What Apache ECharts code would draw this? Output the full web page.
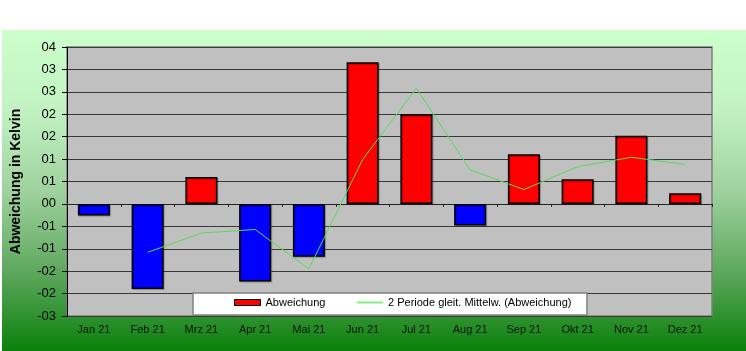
<!DOCTYPE html>
<html>
<head>
<meta charset="utf-8">
<script src="https://cdn.jsdelivr.net/npm/echarts@6/dist/echarts.min.js"></script>
<style>
  html, body { margin: 0; padding: 0; background: #fff; }
  #chart { width: 746px; height: 351px; }
</style>
</head>
<body>
<div id="chart"></div>
<script>
// Monate
var months = ['Jan 21', 'Feb 21', 'Mrz 21', 'Apr 21', 'Mai 21', 'Jun 21',
              'Jul 21', 'Aug 21', 'Sep 21', 'Okt 21', 'Nov 21', 'Dez 21'];
// Abweichung (Balken)
var abweichung = [-0.26, -1.90, 0.60, -1.73, -1.18, 3.16, 2.00, -0.48, 1.11, 0.55, 1.52, 0.24];
// gleitender Mittelwert
var mittel = [null, -1.08, -0.65, -0.57, -1.45, 0.99, 2.58, 0.76, 0.32, 0.83, 1.04, 0.88];
// Achsenwerte und Beschriftung wie im Original
var yTicks = [-2.5, -2, -1.5, -1, -0.5, 0, 0.5, 1, 1.5, 2, 2.5, 3, 3.5];
var yTickLabels = ['-03', '-02', '-02', '-01', '-01', '00', '01', '01', '02', '02', '03', '03', '04'];

var font = '"Liberation Sans", Arial, sans-serif';
var myChart = echarts.init(document.getElementById('chart'));

var legendText = { fontFamily: font, fontSize: 11, color: '#000' };

var option = {
  backgroundColor: '#ffffff',
  animation: false,
  graphic: [
    {
      type: 'rect',
      z: -10,
      shape: { x: 2, y: 30, width: 744, height: 321 },
      style: {
        fill: new echarts.graphic.LinearGradient(0, 0, 0, 1, [
          { offset: 0, color: '#ccffcc' },
          { offset: 0.25, color: '#c2f2c2' },
          { offset: 0.5, color: '#9fd29f' },
          { offset: 0.75, color: '#5fa85f' },
          { offset: 1, color: '#0a800a' }
        ])
      },
      silent: true
    },
    {
      // Legendenrahmen
      type: 'rect',
      z: 50,
      shape: { x: 193, y: 293, width: 394, height: 22 },
      style: { fill: '#ffffff', stroke: '#808080', lineWidth: 1.5 },
      silent: true
    }
  ],
  legend: [
    {
      z: 100,
      left: 234,
      top: 297,
      itemWidth: 26,
      itemHeight: 6,
      padding: 0,
      textStyle: legendText,
      data: [
        { name: 'Abweichung', icon: 'rect', itemStyle: { color: '#ff0000', borderColor: '#000', borderWidth: 1 } }
      ]
    },
    {
      z: 100,
      left: 357,
      top: 297,
      itemWidth: 26,
      itemHeight: 2,
      padding: 0,
      textStyle: legendText,
      data: [
        { name: '2 Periode gleit. Mittelw. (Abweichung)', icon: 'rect',
          itemStyle: { color: '#80f080', borderWidth: 0 } }
      ]
    }
  ],
  grid: {
    left: 67,
    top: 47,
    right: 34,
    bottom: 35,
    show: true,
    backgroundColor: '#c0c0c0',
    borderColor: '#808080',
    borderWidth: 1.5
  },
  xAxis: [
    {
      type: 'category',
      data: months,
      position: 'bottom',
      axisLine: { show: false, onZero: false },
      axisTick: { show: false },
      axisLabel: { margin: 8, fontFamily: font, fontSize: 11, color: '#111' }
    },
    {
      type: 'category',
      data: months,
      position: 'bottom',
      axisLine: { show: true, onZero: true, lineStyle: { color: '#222', width: 1.2 } },
      axisTick: { show: true, length: 3, lineStyle: { color: '#222' } },
      axisLabel: { show: false }
    }
  ],
  yAxis: {
    type: 'value',
    min: -2.5,
    max: 3.5,
    interval: 0.5,
    name: 'Abweichung in Kelvin',
    nameLocation: 'middle',
    nameGap: 44,
    nameTextStyle: { fontFamily: font, fontSize: 14, fontWeight: 'bold', color: '#000' },
    axisLine: { show: true, lineStyle: { color: '#000', width: 1 } },
    axisTick: { show: true, length: 5, lineStyle: { color: '#000' } },
    axisLabel: {
      margin: 11,
      fontFamily: font,
      fontSize: 13,
      color: '#000',
      formatter: function (v) {
        var i = yTicks.indexOf(Math.round(v * 2) / 2);
        return i >= 0 ? yTickLabels[i] : '';
      }
    },
    splitLine: { show: true, lineStyle: { color: '#3a3a3a', width: 1.2 } }
  },
  series: [
    {
      name: 'Abweichung',
      type: 'bar',
      xAxisIndex: 0,
      barWidth: 32,
      data: abweichung.map(function (v) {
        return {
          value: v,
          itemStyle: { color: v >= 0 ? '#ff0000' : '#0000ff' }
        };
      }),
      itemStyle: {
        borderColor: '#000',
        borderWidth: 1.5,
        shadowColor: 'rgba(0,0,0,0.25)',
        shadowOffsetX: 1,
        shadowOffsetY: 1,
        shadowBlur: 1
      }
    },
    {
      name: '2 Periode gleit. Mittelw. (Abweichung)',
      type: 'line',
      xAxisIndex: 0,
      data: mittel,
      symbol: 'none',
      z: 5,
      itemStyle: { color: '#55dd55' },
      lineStyle: { color: '#55dd55', width: 1 }
    }
  ]
};
myChart.setOption(option);
</script>
</body>
</html>
